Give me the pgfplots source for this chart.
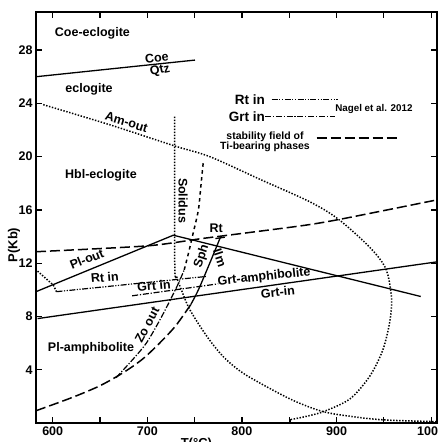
\documentclass[border=0pt]{standalone}
\usepackage{fontspec}
\setmainfont{Liberation Sans}
\usepackage{pgfplots}
\pgfplotsset{compat=1.18}

\tikzset{
  lab/.style={font=\fontsize{12.5}{14}\selectfont\bfseries, inner sep=0pt},
  small/.style={font=\fontsize{10.5}{11.5}\selectfont\bfseries, inner sep=0pt},
  solidl/.style={black, line width=1.3pt},
  dotl/.style={black, line width=1.5pt, dash pattern=on 1.4pt off 1.6pt},
  stab/.style={black, line width=1.5pt, dash pattern=on 10pt off 4pt},
  rtin/.style={black, line width=1.2pt, dash pattern=on 6pt off 1.5pt on 1.2pt off 1.5pt on 1.2pt off 1.5pt},
  grtin/.style={black, line width=1.2pt, dash pattern=on 6pt off 1.8pt on 1.2pt off 1.8pt},
}

\begin{document}
\begin{tikzpicture}
\begin{axis}[
  width=401pt, height=411pt, scale only axis,
  xmin=582.35, xmax=1006.2, ymin=0, ymax=30.86,
  axis line style={line width=1.2pt},
  xtick={600,700,800,900,1000},
  minor xtick={650,750,850,950},
  ytick={4,8,...,28},
  tick align=inside,
  major tick length=6pt, minor tick length=6pt,
  tick style={line width=1.2pt, black},
  ticklabel style={font=\fontsize{12.5}{13}\selectfont\bfseries},
  /pgf/number format/assume math mode=true,
  /pgf/number format/1000 sep={},
  xlabel={T(°C)},
  xlabel style={at={(axis description cs:0.4,0)}, anchor=north, yshift=-12pt,
    font=\fontsize{13}{14}\selectfont\bfseries},
  ylabel={P(Kb)},
  ylabel style={at={(axis description cs:-0.055,0.433)}, anchor=center,
    font=\fontsize{13}{14}\selectfont\bfseries},
  clip=false,
]

% Coe / Qtz
\addplot[solidl] coordinates {(582.35,26.0) (750.4,27.25)};

% Am-out and its loop (dotted)
\addplot[dotl, smooth, tension=0.5] coordinates {
  (590,23.9) (660,22.4) (729,20.8) (766,20.0) (819,18.3) (872,16.6)
  (902,15.3) (935,13.2) (952,11.6) (958,9.5) (956.5,7.7) (949,5.5)
  (935,3.5) (914,1.8) (886,0.85) (865,0.45) (851,0.25)
};
\addplot[black, line width=1.2pt] coordinates {(851,0) (851,0.3)};

% Solidus (dotted)
\addplot[dotl, smooth, tension=0.5] coordinates {
  (729,23.0) (729,12.0) (731,11.0) (736,10.0) (745,8.5) (763,6.5)
  (780,5.0) (798,3.9) (819,3.0) (854,1.7) (886,0.85) (920,0.45)
  (953,0.22) (1006,0.1)
};

% stability field of Ti-bearing phases (Ilm / Rt)
\addplot[stab, smooth, tension=0.4] coordinates {
  (582.35,12.86) (700,13.3) (760,13.87) (862,14.8) (904,15.3) (1006,16.75)
};

% Sph / Ilm boundary
\addplot[stab, smooth, tension=0.5] coordinates {
  (582.35,0.92) (620,1.9) (650,2.8) (675,3.8) (695,4.8) (713,6.0) (730,7.3) (746,8.9)
};
\addplot[solidl, smooth, tension=0.5] coordinates {
  (746,8.9) (754,10.0) (766,12.0) (777,13.9)
};
\addplot[solidl] coordinates {(772,13.85) (782,13.95)};

% Zo out
\addplot[grtin, smooth, tension=0.5] coordinates {
  (667,3.4) (685,4.8) (699,6.0) (713,7.7) (724,9.2) (733,10.5) (739,11.5)
};
\addplot[black, line width=1.5pt, dash pattern=on 3.5pt off 3.5pt, smooth, tension=0.5] coordinates {
  (739,11.5) (743,12.6) (748.6,14.3) (754,16.0) (756.5,17.7) (759.3,19.7)
};

% Pl-out
\addplot[solidl] coordinates {(582.35,9.86) (727.5,14.1) (989,9.5)};

% Grt-in
\addplot[solidl] coordinates {(584,7.84) (1006.2,12.1)};

% Rt in (Nagel et al. 2012)
\addplot[dotl] coordinates {(584,11.4) (600.6,10.36) (604,9.86)};
\addplot[rtin] coordinates {(604,9.86) (762,11.0)};

% Grt in (Nagel et al. 2012)
\addplot[grtin] coordinates {(684,9.55) (775,10.45)};

% key
\addplot[rtin] coordinates {(831.5,24.3) (901.9,24.3)};
\addplot[grtin] coordinates {(824.4,23.0) (898.5,23.0)};
\addplot[stab] coordinates {(879,21.4) (967,21.4)};

\node[lab, anchor=east, font=\fontsize{13.5}{14}\selectfont\bfseries] at (axis cs:824.4,24.3) {Rt in};
\node[lab, anchor=east, font=\fontsize{13.5}{14}\selectfont\bfseries] at (axis cs:824.4,23.0) {Grt in};
\node[small, anchor=west, font=\fontsize{9.8}{10}\selectfont\bfseries] at (axis cs:898.5,23.6) {Nagel et al. 2012};
\node[small, align=center] at (axis cs:824.4,21.1) {stability field of\\[-1pt]Ti-bearing phases};

% field and line labels
\node[lab] at (axis cs:642,29.25) {Coe-eclogite};
\node[lab] at (axis cs:638.4,25.05) {eclogite};
\node[lab, rotate=7] at (axis cs:710,27.4) {Coe};
\node[lab, rotate=12] at (axis cs:713.4,26.45) {Qtz};
\node[lab, rotate=-17] at (axis cs:678,22.6) {Am-out};
\node[lab] at (axis cs:651,18.6) {Hbl-eclogite};
\node[lab, rotate=-90] at (axis cs:737.8,16.7) {Solidus};
\node[lab, rotate=22] at (axis cs:636,12.3) {Pl-out};
\node[lab, rotate=5] at (axis cs:655,10.95) {Rt in};
\node[lab, rotate=5] at (axis cs:707,10.3) {Grt in};
\node[lab, rotate=62] at (axis cs:699.7,7.35) {Zo out};
\node[lab] at (axis cs:640.5,5.6) {Pl-amphibolite};
\node[lab, rotate=72] at (axis cs:757.6,12.5) {Sph};
\node[lab, rotate=-72] at (axis cs:776.8,12.4) {Ilm};
\node[lab] at (axis cs:772.8,14.6) {Rt};
\node[lab, rotate=6] at (axis cs:823.5,10.95) {Grt-amphibolite};
\node[lab, rotate=6] at (axis cs:838,9.85) {Grt-in};
\end{axis}
\pgfresetboundingbox
\useasboundingbox ([shift={(-36pt,-19pt)}]current axis.south west)
  rectangle ([shift={(1pt,12pt)}]current axis.north east);
\end{tikzpicture}
\end{document}
